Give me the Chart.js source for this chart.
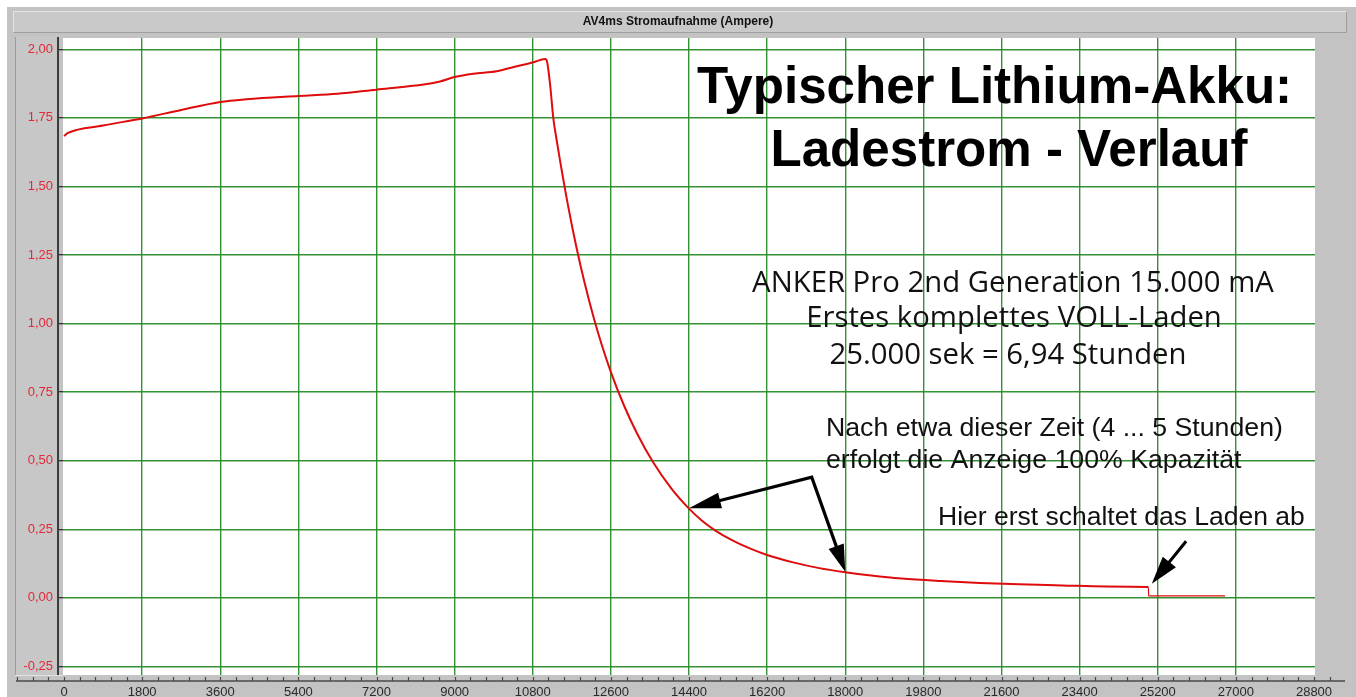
<!DOCTYPE html>
<html><head><meta charset="utf-8">
<script src="https://cdn.jsdelivr.net/npm/chart.js@4.4.1/dist/chart.umd.min.js"></script>
<style>html,body{margin:0;padding:0;background:#fff;overflow:hidden}#wrap{position:relative;width:1356px;height:697px}canvas{display:block}</style>
</head><body><div id="wrap"><canvas id="c" width="1356" height="697"></canvas></div>
<script>
// ---- data ----
const timeSec = [0, 90, 900, 1800, 2700, 3600, 4200, 5400, 6300, 7200, 8100, 8664, 9000, 9431, 9970, 10430, 10814, 11083, 11121, 11198, 11275, 11352, 11429, 11600, 11800, 12000, 12200, 12400, 12600, 12900, 13200, 13570, 14000, 14400, 14700, 15000, 15400, 15800, 16200, 16800, 17400, 18000, 18600, 19300, 20200, 21100, 22000, 23000, 24000, 24984, 24990, 26750];
const currentA = [1.684, 1.695, 1.722, 1.748, 1.779, 1.808, 1.818, 1.830, 1.838, 1.853, 1.868, 1.883, 1.899, 1.911, 1.920, 1.938, 1.953, 1.965, 1.960, 1.874, 1.747, 1.668, 1.594, 1.441, 1.283, 1.145, 1.024, 0.917, 0.823, 0.702, 0.600, 0.495, 0.397, 0.325, 0.281, 0.246, 0.209, 0.180, 0.156, 0.129, 0.108, 0.093, 0.081, 0.070, 0.061, 0.054, 0.049, 0.045, 0.041, 0.039, 0.007, 0.007];
const xTickValues = [0, 1800, 3600, 5400, 7200, 9000, 10800, 12600, 14400, 16200, 18000, 19800, 21600, 23400, 25200, 27000, 28800];
const yTickValues = [-0.25, 0, 0.25, 0.5, 0.75, 1.0, 1.25, 1.5, 1.75, 2.0];

const chartTitle = 'AV4ms Stromaufnahme (Ampere)';
const headline = ['Typischer Lithium-Akku:', 'Ladestrom - Verlauf'];
const infoLines = ['ANKER Pro 2nd Generation 15.000 mA', 'Erstes komplettes VOLL-Laden', '25.000 sek = 6,94 Stunden'];
const noteLines = ['Nach etwa dieser Zeit (4 ... 5 Stunden)', 'erfolgt die Anzeige 100% Kapazität'];
const endNote = 'Hier erst schaltet das Laden ab';

// ---- annotation layout (not data) ----
const arrowCfg = {
  vertex: {x: 17228, y: 0.44},
  tipA: {x: 14400, y: 0.326},
  tipB: {x: 18000, y: 0.095},
  tailC: {x: 25853, y: 0.206},
  tipC: {x: 25062, y: 0.051}
};

const GRID_GREEN = 'rgba(40,140,40,0.95)';
const RED = 'rgb(222,12,12)';
const SANS = '"Liberation Sans", Arial, sans-serif';

function fitSize(ctx, text, weight, family, target) {
  ctx.font = weight + ' 100px ' + family;
  return 100 * target / ctx.measureText(text).width;
}

function arrowHead(ctx, fx, fy, tx, ty, len, half) {
  const a = Math.atan2(ty - fy, tx - fx);
  const bx = tx - len * Math.cos(a), by = ty - len * Math.sin(a);
  ctx.beginPath();
  ctx.moveTo(tx, ty);
  ctx.lineTo(bx + half * Math.sin(a), by - half * Math.cos(a));
  ctx.lineTo(bx - half * Math.sin(a), by + half * Math.cos(a));
  ctx.closePath();
  ctx.fill();
  return {x: bx + 2 * Math.cos(a), y: by + 2 * Math.sin(a)};
}

const framePlugin = {
  id: 'frame',
  beforeDraw(chart) {
    const ctx = chart.ctx, a = chart.chartArea;
    ctx.save();
    ctx.fillStyle = '#ffffff';
    ctx.fillRect(0, 0, chart.width, chart.height);
    ctx.fillStyle = '#c3c3c3';
    ctx.fillRect(7, 7, chart.width - 7, chart.height - 7);
    // title bar
    ctx.fillStyle = '#c9c9c9';
    ctx.fillRect(13, 11, 1334, 21);
    ctx.strokeStyle = '#e4e4e4'; ctx.lineWidth = 1;
    ctx.beginPath(); ctx.moveTo(13.5, 32); ctx.lineTo(13.5, 11.5); ctx.lineTo(1347, 11.5); ctx.stroke();
    ctx.strokeStyle = '#9f9f9f';
    ctx.beginPath(); ctx.moveTo(13.5, 32.5); ctx.lineTo(1346.5, 32.5); ctx.lineTo(1346.5, 11.5); ctx.stroke();
    ctx.fillStyle = '#111';
    ctx.font = 'bold 12px ' + SANS;
    ctx.textAlign = 'center'; ctx.textBaseline = 'middle';
    ctx.fillText(chartTitle, 678, 22);
    // y label panel
    ctx.fillStyle = '#c7c7c7';
    ctx.fillRect(15, 37, 42, 638);
    ctx.strokeStyle = '#9c9c9c';
    ctx.beginPath(); ctx.moveTo(15.5, 37); ctx.lineTo(15.5, 675); ctx.stroke();
    ctx.strokeStyle = '#e2e2e2';
    ctx.beginPath(); ctx.moveTo(15, 675.5); ctx.lineTo(63, 675.5); ctx.stroke();
    // plot background
    ctx.fillStyle = '#ffffff';
    ctx.fillRect(a.left, a.top, a.right - a.left, a.bottom - a.top);
    ctx.restore();
  },
  afterDraw(chart) {
    const ctx = chart.ctx;
    const xs = chart.scales.x, ys = chart.scales.y;
    ctx.save();
    // y axis line
    ctx.fillStyle = '#3c3c3c';
    ctx.fillRect(57, 37, 2, 638);
    // x axis line + minor ticks
    ctx.strokeStyle = '#4a4a4a'; ctx.lineWidth = 1.5;
    ctx.beginPath(); ctx.moveTo(16, 681); ctx.lineTo(1345, 681); ctx.stroke();
    ctx.lineWidth = 1.2;
    for (let v = -1080; v <= 29160; v += 360) {
      const px = Math.round(xs.getPixelForValue(v)) + 0.5;
      ctx.beginPath(); ctx.moveTo(px, 677); ctx.lineTo(px, 681); ctx.stroke();
    }
    // headline
    ctx.fillStyle = '#000';
    ctx.textBaseline = 'alphabetic';
    ctx.textAlign = 'center';
    let fs = fitSize(ctx, headline[0], 'bold', SANS, 595);
    ctx.font = 'bold ' + fs.toFixed(1) + 'px ' + SANS;
    ctx.fillText(headline[0], 994.5, 103);
    ctx.fillText(headline[1], 1009, 166);
    // info block
    const INFO = '"Open Sans", "Noto Sans", sans-serif';
    fs = fitSize(ctx, infoLines[0], 'normal', INFO, 522);
    ctx.font = fs.toFixed(1) + 'px ' + INFO;
    ctx.fillStyle = '#111';
    ctx.fillText(infoLines[0], 1013, 292);
    ctx.fillText(infoLines[1], 1014, 327);
    ctx.fillText(infoLines[2], 1008, 364);
    // notes
    ctx.textAlign = 'left';
    fs = fitSize(ctx, noteLines[0], 'normal', SANS, 457);
    ctx.font = fs.toFixed(1) + 'px ' + SANS;
    ctx.fillText(noteLines[0], 826, 436);
    ctx.fillText(noteLines[1], 826, 468);
    fs = fitSize(ctx, endNote, 'normal', SANS, 367);
    ctx.font = fs.toFixed(1) + 'px ' + SANS;
    ctx.fillText(endNote, 938, 525);
    // arrows
    const P = p => ({x: xs.getPixelForValue(p.x), y: ys.getPixelForValue(p.y)});
    const V = P(arrowCfg.vertex), TA = P(arrowCfg.tipA), TB = P(arrowCfg.tipB);
    const TC = P(arrowCfg.tipC), CC = P(arrowCfg.tailC);
    ctx.fillStyle = '#000'; ctx.strokeStyle = '#000';
    const bA = arrowHead(ctx, V.x, V.y, TA.x, TA.y, 32, 8);
    const bB = arrowHead(ctx, V.x, V.y, TB.x, TB.y, 27, 8);
    ctx.lineWidth = 3.2; ctx.lineJoin = 'miter';
    ctx.beginPath(); ctx.moveTo(bA.x, bA.y); ctx.lineTo(V.x, V.y); ctx.lineTo(bB.x, bB.y); ctx.stroke();
    const bC = arrowHead(ctx, CC.x, CC.y, TC.x, TC.y, 28, 8.5);
    ctx.lineWidth = 3;
    ctx.beginPath(); ctx.moveTo(CC.x, CC.y); ctx.lineTo(bC.x, bC.y); ctx.stroke();
    ctx.restore();
  }
};

const points = timeSec.map((t, i) => ({x: t, y: currentA[i]}));

new Chart(document.getElementById('c'), {
  type: 'line',
  data: {
    datasets: [{
      data: points,
      borderColor: RED,
      borderWidth: 2,
      pointRadius: 0,
      fill: false,
      cubicInterpolationMode: 'monotone',
      segment: {
        borderWidth: c => (c.p0.parsed.x >= 24984 ? 1.2 : 2)
      }
    }]
  },
  options: {
    responsive: false,
    animation: false,
    devicePixelRatio: 1,
    layout: {padding: {top: 38, right: 41, bottom: 0, left: 0}},
    plugins: {legend: {display: false}, tooltip: {enabled: false}, title: {display: false}},
    scales: {
      x: {
        type: 'linear',
        position: 'bottom',
        min: -23.04,
        max: 28823,
        afterFit: s => { s.height = 22; },
        afterBuildTicks: s => { s.ticks = xTickValues.map(v => ({value: v})); },
        border: {display: false},
        grid: {
          drawTicks: false,
          lineWidth: 1.4,
          color: c => (c.tick && (c.tick.value === 0 || c.tick.value === 28800)) ? 'rgba(0,0,0,0)' : GRID_GREEN
        },
        ticks: {
          autoSkip: false, maxRotation: 0, padding: 10,
          color: '#2a2a2a',
          font: {family: SANS, size: 13},
          callback: v => String(v)
        }
      },
      y: {
        type: 'linear',
        min: -0.2817,
        max: 2.0413,
        afterFit: s => { s.width = 63; },
        afterBuildTicks: s => { s.ticks = yTickValues.map(v => ({value: v})); },
        border: {display: false},
        grid: {
          drawTicks: true, tickLength: 6, tickColor: '#222', tickWidth: 1.2,
          lineWidth: 1.4, color: GRID_GREEN
        },
        ticks: {
          padding: 4,
          color: 'rgb(228,40,55)',
          font: {family: SANS, size: 13},
          callback: v => v.toFixed(2).replace('.', ',')
        }
      }
    }
  },
  plugins: [framePlugin]
});
</script>
</body></html>
